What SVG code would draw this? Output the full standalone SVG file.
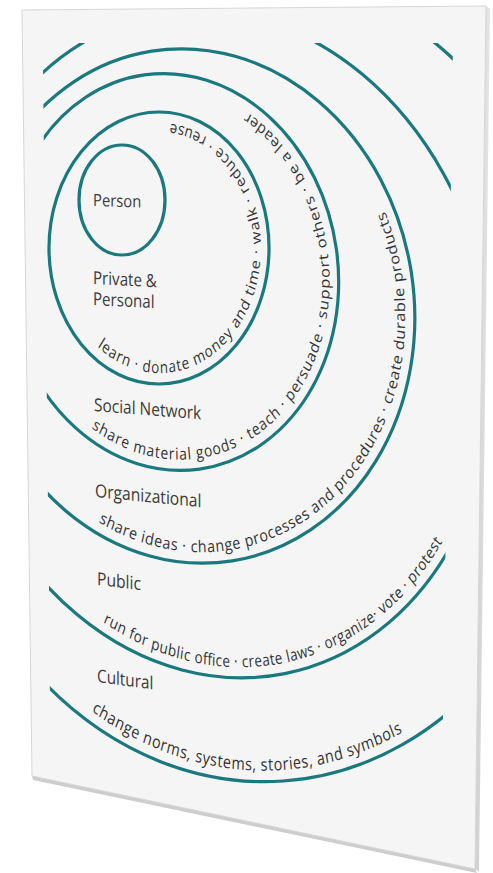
<svg xmlns="http://www.w3.org/2000/svg" width="493" height="873" viewBox="0 0 493 873">
<defs>
<style>
.ring{fill:none;stroke:#19797f;stroke-width:3.2;vector-effect:non-scaling-stroke}
.lbl{font-family:"Open Sans","Noto Sans","Liberation Sans",sans-serif;font-size:18px;fill:#3a3a3a}
.arc{font-family:"Open Sans","Noto Sans","Liberation Sans",sans-serif;font-size:16.5px;fill:#333}
</style>
<clipPath id="clip"><polygon points="42.7,43 453,43 441,850 52,850"/></clipPath>
<clipPath id="clip6"><polygon points="130,43 453,43 441,850 52,850 46,400"/></clipPath>
<linearGradient id="side" x1="0" y1="0" x2="1" y2="0">
<stop offset="0" stop-color="#cfcfcf"/><stop offset="1" stop-color="#e6e6e6"/>
</linearGradient>
<path id="p2" d="M -76 98.6 A 125 125 0 1 0 13.5 -124.3"/>
<path id="p3" d="M -121.6 143.4 A 188 188 0 1 0 115.5 -148.3"/>
<path id="p4" d="M -146.6 198.8 A 247 247 0 0 0 238.8 -63.1"/>
<path id="p5" d="M -207.7 250 A 325 325 0 0 0 222.1 237.3"/>
<path id="p6" d="M -227.1 321.9 A 394 394 0 0 0 149.5 364.5"/>
</defs>
<rect width="493" height="873" fill="#ffffff"/>
<g id="panel">
<polygon points="32,776 475,869 477,873 33,780" fill="#cdcdcd"/>
<polygon points="486,6 490,9 479,872 475,869" fill="url(#side)"/>
<polygon points="22,10 486,6 475,869 32,776" fill="#f5f5f5" stroke="#d6d6d6" stroke-width="1"/>
</g>
<g id="connectors"></g>
<g id="person">
<ellipse class="ring" cx="122" cy="200" rx="43" ry="55"/>
<text class="lbl" transform="translate(93 206) skewY(2) scale(0.87 1)" style="font-size:17px">Person</text>
</g>
<g id="private">
<circle class="ring" r="136" transform="translate(159 248) scale(0.809 1)"/>
<text class="lbl" transform="translate(93 284) skewY(3) scale(0.84 1)">Private &amp;</text>
<text class="lbl" transform="translate(93 305) skewY(3) scale(0.84 1)">Personal</text>
<g transform="translate(159 248) scale(0.809 1)"><text class="arc"><textPath href="#p2" textLength="462">learn · donate money and time · walk · reduce · reuse</textPath></text></g>
</g>
<g id="social">
<g clip-path="url(#clip)"><circle class="ring" r="199" transform="translate(172 272) rotate(-8) scale(0.834 1)"/></g>
<text class="lbl" transform="translate(94 411) skewY(4.5) scale(0.86 1)">Social Network</text>
<g transform="translate(172 272) rotate(-8) scale(0.834 1)"><text class="arc"><textPath href="#p3" textLength="598">share material goods · teach · persuade · support others · be a leader</textPath></text></g>
</g>
<g id="organizational">
<g clip-path="url(#clip)"><circle class="ring" r="258" transform="translate(192 306) rotate(-9) scale(0.860 1)"/></g>
<text class="lbl" transform="translate(95 497) skewY(5.5) scale(0.87 1)">Organizational</text>
<g transform="translate(192 306) rotate(-9) scale(0.860 1)"><text class="arc"><textPath href="#p4" textLength="609">share ideas · change processes and procedures · create durable products</textPath></text></g>
</g>
<g id="public">
<g clip-path="url(#clip)"><circle class="ring" r="335.7" transform="translate(219.6 344.3) rotate(-11.2) scale(0.810 1)"/></g>
<text class="lbl" transform="translate(97 585) skewY(6.5) scale(0.87 1)">Public</text>
<g transform="translate(219.6 344.3) rotate(-11.2) scale(0.810 1)"><text class="arc"><textPath href="#p5" textLength="470">run for public office · create laws · organize· vote · protest</textPath></text></g>
</g>
<g id="cultural">
<g clip-path="url(#clip6)"><circle class="ring" r="405" transform="translate(255 377) rotate(-4) scale(0.820 1)"/></g>
<text class="lbl" transform="translate(97 682) skewY(7.5) scale(0.85 1)">Cultural</text>
<g transform="translate(255 377) rotate(-4) scale(0.820 1)"><text class="arc" style="font-size:17.5px"><textPath href="#p6" textLength="395">change norms, systems, stories, and symbols</textPath></text></g>
</g>
</svg>
